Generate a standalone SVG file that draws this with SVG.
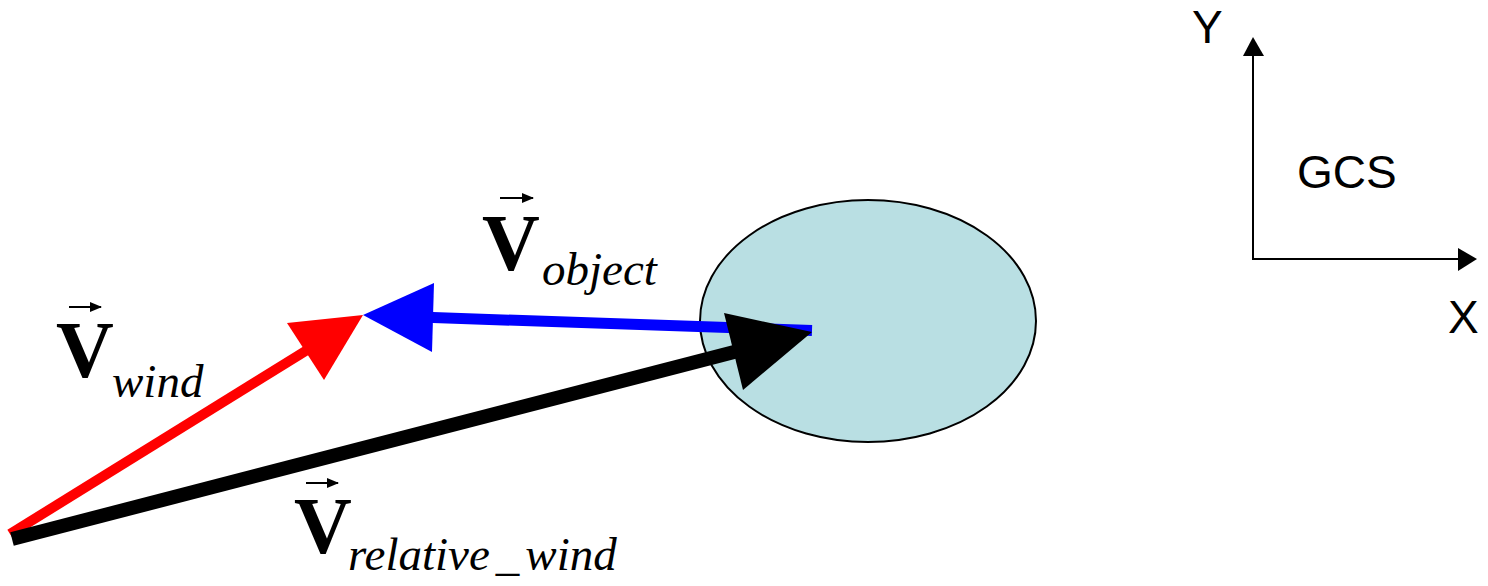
<svg xmlns="http://www.w3.org/2000/svg" width="1488" height="586" viewBox="0 0 1488 586">
<style>
.vb{font-family:"Liberation Serif","Times New Roman",serif;font-weight:bold;font-size:80px;fill:#000}
.sub{font-family:"Liberation Serif","Times New Roman",serif;font-style:italic;font-size:47px;fill:#000}
.ax{font-family:"Liberation Sans",Arial,sans-serif;font-size:46px;fill:#000}
.vec{stroke:#000;stroke-width:2;fill:none}
</style>
<defs>
<marker id="sm" markerUnits="userSpaceOnUse" markerWidth="12" markerHeight="10" refX="11" refY="5" orient="auto"><path d="M0,0 L12,5 L0,10 Z" fill="#000"/></marker>
</defs>
<rect width="1488" height="586" fill="#fff"/>
<g id="object">
<ellipse cx="868" cy="321" rx="168" ry="121" fill="#B9DFE3" stroke="#000" stroke-width="2"/>
</g>
<g id="connectors">
<line x1="10" y1="534" x2="312" y2="347" stroke="#FF0000" stroke-width="10"/>
<polygon points="363,315 287,323 324,380" fill="#FF0000"/>
<line x1="812" y1="330.5" x2="426" y2="317.3" stroke="#0000FF" stroke-width="11"/>
<polygon points="363,315 434,283 432,352" fill="#0000FF"/>
<line x1="12" y1="539" x2="738" y2="351" stroke="#000" stroke-width="14"/>
<polygon points="812,332 724,313 743,390" fill="#000"/>
<line x1="1253" y1="259" x2="1253" y2="52" stroke="#000" stroke-width="2"/>
<polygon points="1253,37 1243,56 1264,56" fill="#000"/>
<line x1="1252" y1="259" x2="1462" y2="259" stroke="#000" stroke-width="2"/>
<polygon points="1477,259 1458,248 1458,271" fill="#000"/>
</g>
<g id="label-wind">
<line class="vec" x1="69" y1="307" x2="101" y2="307" marker-end="url(#sm)"/>
<text class="vb" x="56" y="377">V</text>
<text class="sub" x="112" y="397">wind</text>
</g>
<g id="label-object">
<line class="vec" x1="500" y1="198" x2="533" y2="198" marker-end="url(#sm)"/>
<text class="vb" x="482" y="270">V</text>
<text class="sub" x="542" y="285">object</text>
</g>
<g id="label-relative">
<line class="vec" x1="306" y1="483" x2="338" y2="483" marker-end="url(#sm)"/>
<text class="vb" x="294" y="553">V</text>
<text class="sub" x="348" y="570">relative<tspan dx="6">_</tspan><tspan dx="6">wind</tspan></text>
</g>
<g id="gcs">
<text class="ax" x="1192" y="43">Y</text>
<text class="ax" x="1297" y="188">GCS</text>
<text class="ax" x="1448" y="333">X</text>
</g>
</svg>
